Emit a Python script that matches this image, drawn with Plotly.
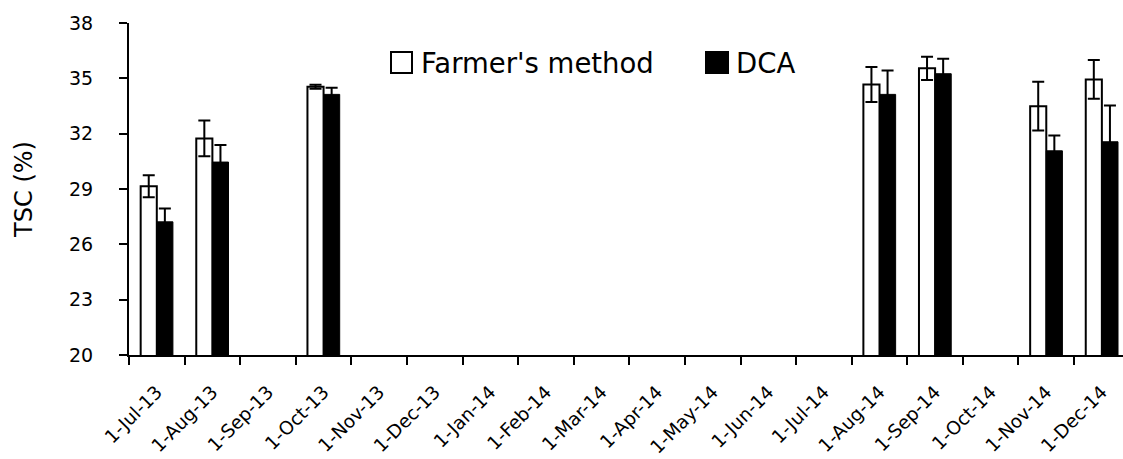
import plotly.graph_objects as go

# Data
months = ["1-Jul-13", "1-Aug-13", "1-Sep-13", "1-Oct-13", "1-Nov-13", "1-Dec-13",
          "1-Jan-14", "1-Feb-14", "1-Mar-14", "1-Apr-14", "1-May-14", "1-Jun-14",
          "1-Jul-14", "1-Aug-14", "1-Sep-14", "1-Oct-14", "1-Nov-14", "1-Dec-14"]

farmer_name = "Farmer's method"
farmer = [29.15, 31.74, None, 34.54, None, None, None, None, None, None, None, None,
          None, 34.67, 35.54, None, 33.49, 34.94]
farmer_err = [0.60, 0.97, None, 0.11, None, None, None, None, None, None, None, None,
              None, 0.95, 0.63, None, 1.32, 1.05]

dca_name = "DCA"
dca = [27.22, 30.46, None, 34.13, None, None, None, None, None, None, None, None,
       None, 34.13, 35.25, None, 31.07, 31.56]
dca_err = [0.72, 0.92, None, 0.36, None, None, None, None, None, None, None, None,
           None, 1.30, 0.81, None, 0.83, 1.97]

font = "DejaVu Sans"

fig = go.Figure()
fig.add_trace(go.Bar(
    x=months, y=farmer, name=farmer_name,
    marker=dict(color="white", line=dict(color="black", width=2)),
    error_y=dict(type="data", array=farmer_err, color="black", thickness=2, width=6),
))
fig.add_trace(go.Bar(
    x=months, y=dca, name=dca_name,
    marker=dict(color="black", line=dict(color="black", width=1)),
    error_y=dict(type="data", array=dca_err, color="black", thickness=2, width=6),
))

# legend drawn by hand to get the large square keys
L, B, W, H = 129, 355, 994, 332
def px(x):
    return (x - L) / W
def py(y):
    return (B - y) / H

fig.add_shape(type="rect", xref="paper", yref="paper",
              x0=px(391), x1=px(412), y0=py(73), y1=py(52),
              line=dict(color="black", width=2), fillcolor="white")
fig.add_shape(type="rect", xref="paper", yref="paper",
              x0=px(706), x1=px(728), y0=py(73), y1=py(52),
              line=dict(color="black", width=2), fillcolor="black")
fig.add_annotation(text=farmer_name, xref="paper", yref="paper", x=px(419), y=py(63),
                   xanchor="left", yanchor="middle", showarrow=False,
                   font=dict(family=font, size=27.5, color="black"))
fig.add_annotation(text=dca_name, xref="paper", yref="paper", x=px(734), y=py(63),
                   xanchor="left", yanchor="middle", showarrow=False,
                   font=dict(family=font, size=27.5, color="black"))

fig.update_layout(
    width=1123, height=459,
    margin=dict(l=L, r=0, t=23, b=104),
    paper_bgcolor="white", plot_bgcolor="white",
    barmode="group", bargap=0.42, bargroupgap=0,
    showlegend=False,
    font=dict(family=font, color="black"),
)
fig.update_xaxes(
    type="category", range=[-0.5, 17.38], tickson="boundaries",
    showline=True, linecolor="black", linewidth=2,
    ticks="outside", ticklen=8, tickwidth=2, tickcolor="black",
    tickangle=-45, tickfont=dict(family=font, size=18.5), ticklabelstandoff=17,
    showgrid=False, automargin=False,
)
fig.update_yaxes(
    range=[20, 38], dtick=3, tick0=20,
    showline=True, linecolor="black", linewidth=2,
    ticks="outside", ticklen=8, tickwidth=2, tickcolor="black",
    tickfont=dict(family=font, size=19), ticklabelstandoff=22,
    showgrid=False, zeroline=False, automargin=False,
    title=dict(text="TSC (%)", font=dict(family=font, size=24), standoff=30),
)

# drop the default page margin so the figure sits at the window corner
fig.write_html("out.html", config={"displayModeBar": False},
               post_script="document.body.style.margin='0';")
